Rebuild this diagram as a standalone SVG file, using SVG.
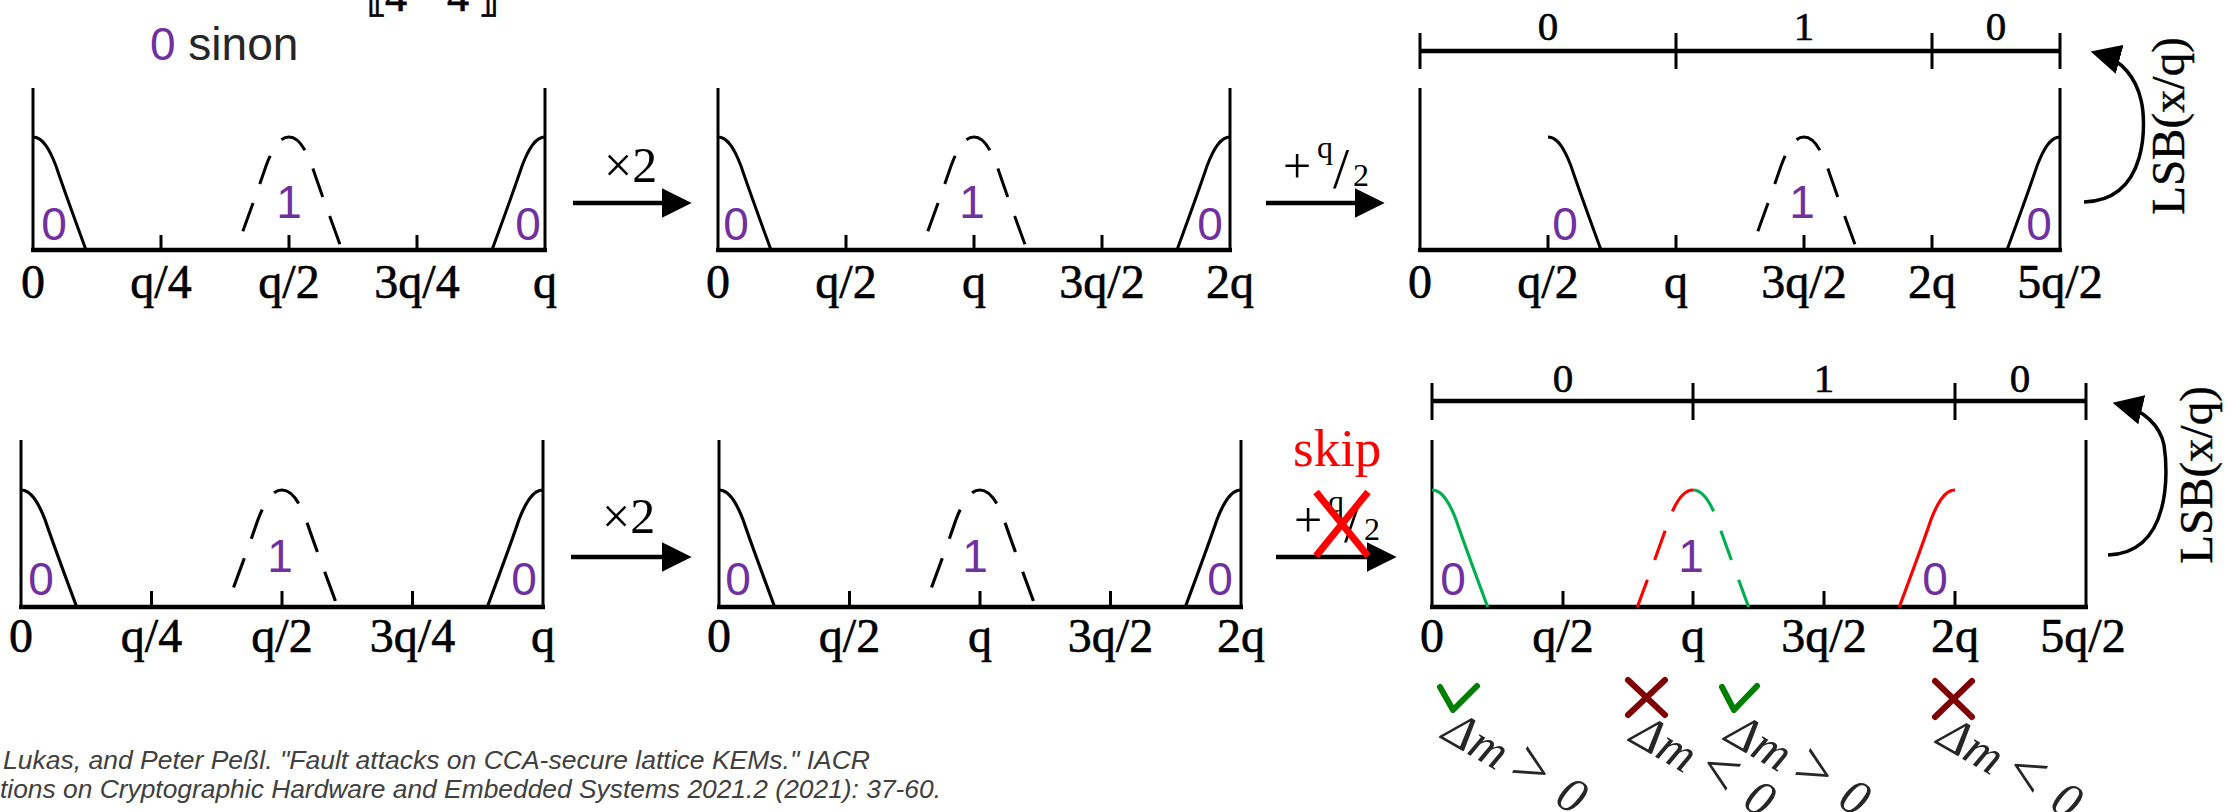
<svg xmlns="http://www.w3.org/2000/svg" width="2236" height="812" viewBox="0 0 2236 812">
<style>
.ax{stroke:#000;stroke-width:3;fill:none}
.base{stroke:#000;stroke-width:4.5;fill:none}
.tick{stroke:#000;stroke-width:3}
.crv{stroke:#000;stroke-width:3;fill:none}
.dash{stroke-dasharray:30 20;stroke-dashoffset:30}
.dash2{stroke-dasharray:30 20}
.grn{stroke:#00B050}
.red{stroke:#FF0000}
.lbl{font-family:"Liberation Serif",serif;font-size:48px;fill:#000;stroke:#000;stroke-width:0.6;text-anchor:middle}
.pl{font-family:"Liberation Sans",Arial,sans-serif;font-size:46px;fill:#7030A0;text-anchor:middle}
.bar{font-family:"Liberation Serif",serif;font-size:41px;fill:#000;stroke:#000;stroke-width:0.6;text-anchor:middle}
.arr{stroke:#000;stroke-width:4.5;fill:none}
.lsbarr{stroke:#000;stroke-width:3.5;fill:none}
.op{font-family:"Liberation Serif",serif;font-size:50px;fill:#000}
.sup{font-family:"Liberation Serif",serif;font-size:32px;fill:#000}
.lsb{font-family:"Liberation Serif",serif;font-size:47px;fill:#000;stroke:#000;stroke-width:0.4;text-anchor:middle}
.dm{font-family:"Liberation Serif",serif;font-style:italic;font-size:50px;fill:#262626}
.rel{font-size:64px;font-style:normal}
.cite{font-family:"Liberation Sans",Arial,sans-serif;font-style:italic;font-size:25px;fill:#404040}
.ok{stroke:#008000;stroke-width:6;fill:none;stroke-linecap:round;stroke-linejoin:round}
.ko{stroke:#7F0000;stroke-width:6;stroke-linecap:round}
</style>
<defs>
<path id="hb" d="M0,0 C10,0 17,13 23,29 C31,53 45,91 53,113"/>
<path id="bell" d="M-53,113 C-45,91 -31,53 -23,29 C-17,13 -10,0 0,0 C10,0 17,13 23,29 C31,53 45,91 53,113"/>
<marker id="ah" markerUnits="userSpaceOnUse" markerWidth="30" markerHeight="30" viewBox="0 0 28 28" refX="19" refY="14" orient="auto"><path d="M0,0 L28,14 L0,28 Z" fill="#000"/></marker>
</defs>

<g id="header">
<text class="lbl" style="text-anchor:start;font-size:44px" y="11"><tspan x="366">⟦</tspan><tspan x="385">4</tspan><tspan x="447">4</tspan><tspan x="478">⟧</tspan></text>
<text x="150" y="60" style="font-family:'Liberation Sans',Arial,sans-serif;font-size:46px"><tspan fill="#7030A0">0</tspan><tspan fill="#262626"> sinon</tspan></text>
</g>

<g id="top-1">
<line class="ax" x1="33" y1="88" x2="33" y2="250"/>
<line class="ax" x1="545" y1="88" x2="545" y2="250"/>
<line class="base" x1="31" y1="250" x2="547" y2="250"/>
<line class="tick" x1="161" y1="235" x2="161" y2="250"/>
<line class="tick" x1="289" y1="235" x2="289" y2="250"/>
<line class="tick" x1="417" y1="235" x2="417" y2="250"/>
<use href="#hb" class="crv" transform="translate(33,137)"/>
<use href="#hb" class="crv" transform="translate(545,137) scale(-1,1)"/>
<use href="#bell" class="crv dash" transform="translate(289,137)"/>
<text class="pl" x="54" y="240">0</text>
<text class="pl" x="289" y="218">1</text>
<text class="pl" x="528" y="240">0</text>
<text class="lbl" x="33" y="298">0</text>
<text class="lbl" x="161" y="298">q/4</text>
<text class="lbl" x="289" y="298">q/2</text>
<text class="lbl" x="417" y="298">3q/4</text>
<text class="lbl" x="545" y="298">q</text>
</g>

<g id="top-2">
<line class="ax" x1="718" y1="88" x2="718" y2="250"/>
<line class="ax" x1="1230" y1="88" x2="1230" y2="250"/>
<line class="base" x1="716" y1="250" x2="1232" y2="250"/>
<line class="tick" x1="846" y1="235" x2="846" y2="250"/>
<line class="tick" x1="974" y1="235" x2="974" y2="250"/>
<line class="tick" x1="1102" y1="235" x2="1102" y2="250"/>
<use href="#hb" class="crv" transform="translate(718,137)"/>
<use href="#hb" class="crv" transform="translate(1230,137) scale(-1,1)"/>
<use href="#bell" class="crv dash" transform="translate(974,137)"/>
<text class="pl" x="736" y="240">0</text>
<text class="pl" x="972" y="218">1</text>
<text class="pl" x="1210" y="240">0</text>
<text class="lbl" x="718" y="298">0</text>
<text class="lbl" x="846" y="298">q/2</text>
<text class="lbl" x="974" y="298">q</text>
<text class="lbl" x="1102" y="298">3q/2</text>
<text class="lbl" x="1230" y="298">2q</text>
</g>

<g id="top-3">
<line class="base" x1="1420" y1="51" x2="2060" y2="51"/>
<line class="tick" x1="1420" y1="33" x2="1420" y2="69"/>
<line class="tick" x1="1676" y1="33" x2="1676" y2="69"/>
<line class="tick" x1="1932" y1="33" x2="1932" y2="69"/>
<line class="tick" x1="2060" y1="33" x2="2060" y2="69"/>
<text class="bar" x="1548" y="40">0</text>
<text class="bar" x="1804" y="40">1</text>
<text class="bar" x="1996" y="40">0</text>
<line class="ax" x1="1420" y1="88" x2="1420" y2="250"/>
<line class="ax" x1="2060" y1="88" x2="2060" y2="250"/>
<line class="base" x1="1418" y1="250" x2="2062" y2="250"/>
<line class="tick" x1="1548" y1="235" x2="1548" y2="250"/>
<line class="tick" x1="1676" y1="235" x2="1676" y2="250"/>
<line class="tick" x1="1804" y1="235" x2="1804" y2="250"/>
<line class="tick" x1="1932" y1="235" x2="1932" y2="250"/>
<use href="#hb" class="crv" transform="translate(1548,137)"/>
<use href="#hb" class="crv" transform="translate(2060,137) scale(-1,1)"/>
<use href="#bell" class="crv dash" transform="translate(1804,137)"/>
<text class="pl" x="1565" y="240">0</text>
<text class="pl" x="1802" y="218">1</text>
<text class="pl" x="2039" y="240">0</text>
<text class="lbl" x="1420" y="298">0</text>
<text class="lbl" x="1548" y="298">q/2</text>
<text class="lbl" x="1676" y="298">q</text>
<text class="lbl" x="1804" y="298">3q/2</text>
<text class="lbl" x="1932" y="298">2q</text>
<text class="lbl" x="2060" y="298">5q/2</text>
<text class="lsb" transform="translate(2184,126) rotate(-90)">LSB(x/q)</text>
</g>

<g id="bottom-1">
<line class="ax" x1="21" y1="440" x2="21" y2="607"/>
<line class="ax" x1="543" y1="440" x2="543" y2="607"/>
<line class="base" x1="19" y1="607" x2="545" y2="607"/>
<line class="tick" x1="151.5" y1="591" x2="151.5" y2="607"/>
<line class="tick" x1="282" y1="591" x2="282" y2="607"/>
<line class="tick" x1="412.5" y1="591" x2="412.5" y2="607"/>
<use href="#hb" class="crv" transform="translate(21,490) scale(1.05,1.035)"/>
<use href="#hb" class="crv" transform="translate(543,490) scale(-1.05,1.035)"/>
<use href="#bell" class="crv dash" transform="translate(282,490) scale(1.05,1.035)"/>
<text class="pl" x="41" y="595">0</text>
<text class="pl" x="280" y="572">1</text>
<text class="pl" x="524" y="595">0</text>
<text class="lbl" x="21" y="652">0</text>
<text class="lbl" x="151.5" y="652">q/4</text>
<text class="lbl" x="282" y="652">q/2</text>
<text class="lbl" x="412.5" y="652">3q/4</text>
<text class="lbl" x="543" y="652">q</text>
</g>

<g id="bottom-2">
<line class="ax" x1="719" y1="440" x2="719" y2="607"/>
<line class="ax" x1="1241" y1="440" x2="1241" y2="607"/>
<line class="base" x1="717" y1="607" x2="1243" y2="607"/>
<line class="tick" x1="849.5" y1="591" x2="849.5" y2="607"/>
<line class="tick" x1="980" y1="591" x2="980" y2="607"/>
<line class="tick" x1="1110.5" y1="591" x2="1110.5" y2="607"/>
<use href="#hb" class="crv" transform="translate(719,490) scale(1.05,1.035)"/>
<use href="#hb" class="crv" transform="translate(1241,490) scale(-1.05,1.035)"/>
<use href="#bell" class="crv dash" transform="translate(980,490) scale(1.05,1.035)"/>
<text class="pl" x="738" y="595">0</text>
<text class="pl" x="975" y="572">1</text>
<text class="pl" x="1220" y="595">0</text>
<text class="lbl" x="719" y="652">0</text>
<text class="lbl" x="849.5" y="652">q/2</text>
<text class="lbl" x="980" y="652">q</text>
<text class="lbl" x="1110.5" y="652">3q/2</text>
<text class="lbl" x="1241" y="652">2q</text>
</g>

<g id="bottom-3">
<line class="base" x1="1432" y1="401" x2="2086" y2="401"/>
<line class="tick" x1="1432" y1="383" x2="1432" y2="420"/>
<line class="tick" x1="1693" y1="383" x2="1693" y2="420"/>
<line class="tick" x1="1955" y1="383" x2="1955" y2="420"/>
<line class="tick" x1="2086" y1="383" x2="2086" y2="420"/>
<text class="bar" x="1563" y="392">0</text>
<text class="bar" x="1824" y="392">1</text>
<text class="bar" x="2020" y="392">0</text>
<line class="ax" x1="1432" y1="440" x2="1432" y2="607"/>
<line class="ax" x1="2086" y1="440" x2="2086" y2="607"/>
<line class="base" x1="1430" y1="607" x2="2088" y2="607"/>
<line class="tick" x1="1563" y1="591" x2="1563" y2="607"/>
<line class="tick" x1="1693" y1="591" x2="1693" y2="607"/>
<line class="tick" x1="1824" y1="591" x2="1824" y2="607"/>
<line class="tick" x1="1955" y1="591" x2="1955" y2="607"/>
<use href="#hb" class="crv grn" transform="translate(1432,490) scale(1.05,1.035)"/>
<use href="#hb" class="crv red dash2" transform="translate(1693,490) scale(-1.05,1.035)"/>
<use href="#hb" class="crv grn dash2" transform="translate(1693,490) scale(1.05,1.035)"/>
<use href="#hb" class="crv red" transform="translate(1955,490) scale(-1.05,1.035)"/>
<text class="pl" x="1453" y="595">0</text>
<text class="pl" x="1691" y="572">1</text>
<text class="pl" x="1935" y="595">0</text>
<text class="lbl" x="1432" y="652">0</text>
<text class="lbl" x="1563" y="652">q/2</text>
<text class="lbl" x="1693" y="652">q</text>
<text class="lbl" x="1824" y="652">3q/2</text>
<text class="lbl" x="1955" y="652">2q</text>
<text class="lbl" x="2083" y="652">5q/2</text>
<text class="lsb" transform="translate(2212,475) rotate(-90)">LSB(x/q)</text>
</g>

<g id="outcomes">
<polyline class="ok" points="1440,687 1453,710 1477,686"/>
<line class="ko" x1="1628" y1="680" x2="1665" y2="715"/>
<line class="ko" x1="1665" y1="680" x2="1628" y2="715"/>
<polyline class="ok" points="1722,687 1734,710 1757,686"/>
<line class="ko" x1="1935" y1="681" x2="1972" y2="717"/>
<line class="ko" x1="1972" y1="681" x2="1935" y2="717"/>
<text class="dm" transform="translate(1440,738) rotate(30)">Δm<tspan class="rel" dx="11">&gt;</tspan><tspan dx="18">0</tspan></text>
<text class="dm" transform="translate(1628,741) rotate(30)">Δm<tspan class="rel" dx="11">&lt;</tspan><tspan dx="18">0</tspan></text>
<text class="dm" transform="translate(1723,740) rotate(30)">Δm<tspan class="rel" dx="11">&gt;</tspan><tspan dx="18">0</tspan></text>
<text class="dm" transform="translate(1935,743) rotate(30)">Δm<tspan class="rel" dx="11">&lt;</tspan><tspan dx="18">0</tspan></text>
</g>

<g id="connectors">
<line class="arr" x1="573" y1="203" x2="682" y2="203" marker-end="url(#ah)"/>
<text class="op" x="604" y="182">×2</text>
<line class="arr" x1="1266" y1="203" x2="1375" y2="203" marker-end="url(#ah)"/>
<text class="op" x="1283" y="183">+</text>
<text class="sup" x="1317" y="158">q</text>
<text class="op" x="1333" y="188" style="font-size:58px">/</text>
<text class="sup" x="1353" y="186">2</text>
<line class="arr" x1="571" y1="557" x2="682" y2="557" marker-end="url(#ah)"/>
<text class="op" x="602" y="533">×2</text>
<line class="arr" x1="1276" y1="557" x2="1387" y2="557" marker-end="url(#ah)"/>
<text class="op" x="1294" y="537">+</text>
<text class="sup" x="1328" y="512">q</text>
<text class="op" x="1344" y="542" style="font-size:58px">/</text>
<text class="sup" x="1364" y="540">2</text>
<line x1="1316" y1="492" x2="1368" y2="556" stroke="#FF0000" stroke-width="7"/>
<line x1="1368" y1="492" x2="1316" y2="556" stroke="#FF0000" stroke-width="7"/>
<text x="1293" y="466" style="font-family:'Liberation Serif',serif;font-size:53px;fill:#FF0000">skip</text>
<path class="lsbarr" d="M2084,202 C2150,200 2146,120 2141,100 C2136,78 2122,60 2100,54" marker-end="url(#ah)"/>
<path class="lsbarr" d="M2108,555 C2172,553 2168,470 2164,445 C2160,425 2143,410 2122,405" marker-end="url(#ah)"/>
</g>

<g id="citation">
<text class="cite" x="3" y="769" textLength="867" lengthAdjust="spacingAndGlyphs">Lukas, and Peter Peßl. "Fault attacks on CCA-secure lattice KEMs." IACR</text>
<text class="cite" x="0" y="798" textLength="941" lengthAdjust="spacingAndGlyphs">tions on Cryptographic Hardware and Embedded Systems 2021.2 (2021): 37-60.</text>
</g>
</svg>
